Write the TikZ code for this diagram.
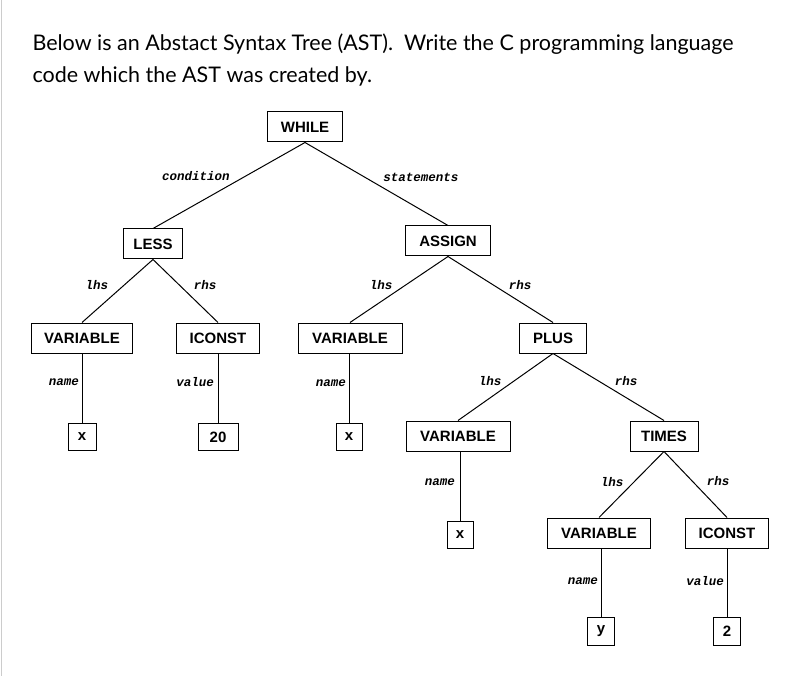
\documentclass[tikz,border=0pt]{standalone}
\usepackage{fontspec}
\setmainfont{Lato}
\newfontfamily\boxfont{Liberation Sans}
\newfontfamily\lblfont{Liberation Mono}
\begin{document}
\begin{tikzpicture}[x=1pt,y=-1pt,
  tn/.style={draw,line width=1pt,font=\boxfont\bfseries\fontsize{15}{17}\selectfont,inner sep=0pt,minimum height=30pt},
  lb/.style={font=\lblfont\bfseries\itshape\fontsize{12.5}{14}\selectfont,inner sep=1pt},
  ed/.style={line width=1pt}]
\useasboundingbox (0,0) rectangle (787,676);
\draw[gray!40,line width=0.8pt] (1.5,0) -- (1.5,676);
\node[anchor=west,font=\fontsize{21.5}{26}\selectfont] (t1) at (29,44) {Below is an Abstact Syntax Tree (AST).\ \ Write the C programming language};
\node[anchor=west,font=\fontsize{21.5}{26}\selectfont] (t2) at (29,76) {code which the AST was created by.};

\node[tn,minimum width=75pt] (while) at (305,127) {WHILE};
\node[tn,minimum width=59pt] (less) at (153,244) {LESS};
\node[tn,minimum width=85pt] (assign) at (448,241) {ASSIGN};
\node[tn,minimum width=101pt] (var1) at (82,338) {VARIABLE};
\node[tn,minimum width=83pt] (ic1) at (218,338) {ICONST};
\node[tn,minimum width=104pt] (var2) at (350,338) {VARIABLE};
\node[tn,minimum width=67pt] (plus) at (553,338) {PLUS};
\node[tn,minimum width=28pt,minimum height=27pt] (x1) at (82,437) {x};
\node[tn,minimum width=40pt,minimum height=27pt] (c20) at (218,437) {20};
\node[tn,minimum width=26pt,minimum height=27pt] (x2) at (349,437) {x};
\node[tn,minimum width=104pt] (var3) at (458,436) {VARIABLE};
\node[tn,minimum width=68pt] (times) at (664,436) {TIMES};
\node[tn,minimum width=26pt,minimum height=27pt] (x3) at (460,535) {x};
\node[tn,minimum width=103pt] (var4) at (599,533) {VARIABLE};
\node[tn,minimum width=83pt] (ic2) at (727,533) {ICONST};
\node[tn,minimum width=27pt,minimum height=28pt] (yv) at (601,631) {y};
\node[tn,minimum width=27pt,minimum height=28pt] (c2) at (727,631) {2};

\draw[ed] (while.south) -- (less.north);
\draw[ed] (while.south) -- (assign.north);
\draw[ed] (less.south) -- (var1.north);
\draw[ed] (less.south) -- (ic1.north);
\draw[ed] (assign.south) -- (var2.north);
\draw[ed] (assign.south) -- (plus.north);
\draw[ed] (plus.south) -- (var3.north);
\draw[ed] (plus.south) -- (times.north);
\draw[ed] (times.south) -- (var4.north);
\draw[ed] (times.south) -- (ic2.north);
\draw[ed] (var1.south) -- (x1.north);
\draw[ed] (ic1.south) -- (c20.north);
\draw[ed] (var2.south -| x2) -- (x2.north);
\draw[ed] (var3.south -| x3) -- (x3.north);
\draw[ed] (var4.south -| yv) -- (yv.north);
\draw[ed] (ic2.south) -- (c2.north);

\node[lb] (lcond) at (196,176) {condition};
\node[lb] (lstat) at (421,177) {statements};
\node[lb] (llhs1) at (97,285) {lhs};
\node[lb] (lrhs1) at (205,285) {rhs};
\node[lb] (llhs2) at (381,285) {lhs};
\node[lb] (lrhs2) at (520,285) {rhs};
\node[lb] (llhs3) at (490,381) {lhs};
\node[lb] (lrhs3) at (626,381) {rhs};
\node[lb] (llhs4) at (612,482) {lhs};
\node[lb] (lrhs4) at (718,481) {rhs};
\node[lb,anchor=east] (ln1) at (80,382) {name};
\node[lb,anchor=east] (lv1) at (215,382) {value};
\node[lb,anchor=east] (ln2) at (347,383) {name};
\node[lb,anchor=east] (ln3) at (456,482) {name};
\node[lb,anchor=east] (ln4) at (599,581) {name};
\node[lb,anchor=east] (lv2) at (725,581) {value};
\end{tikzpicture}
\end{document}
